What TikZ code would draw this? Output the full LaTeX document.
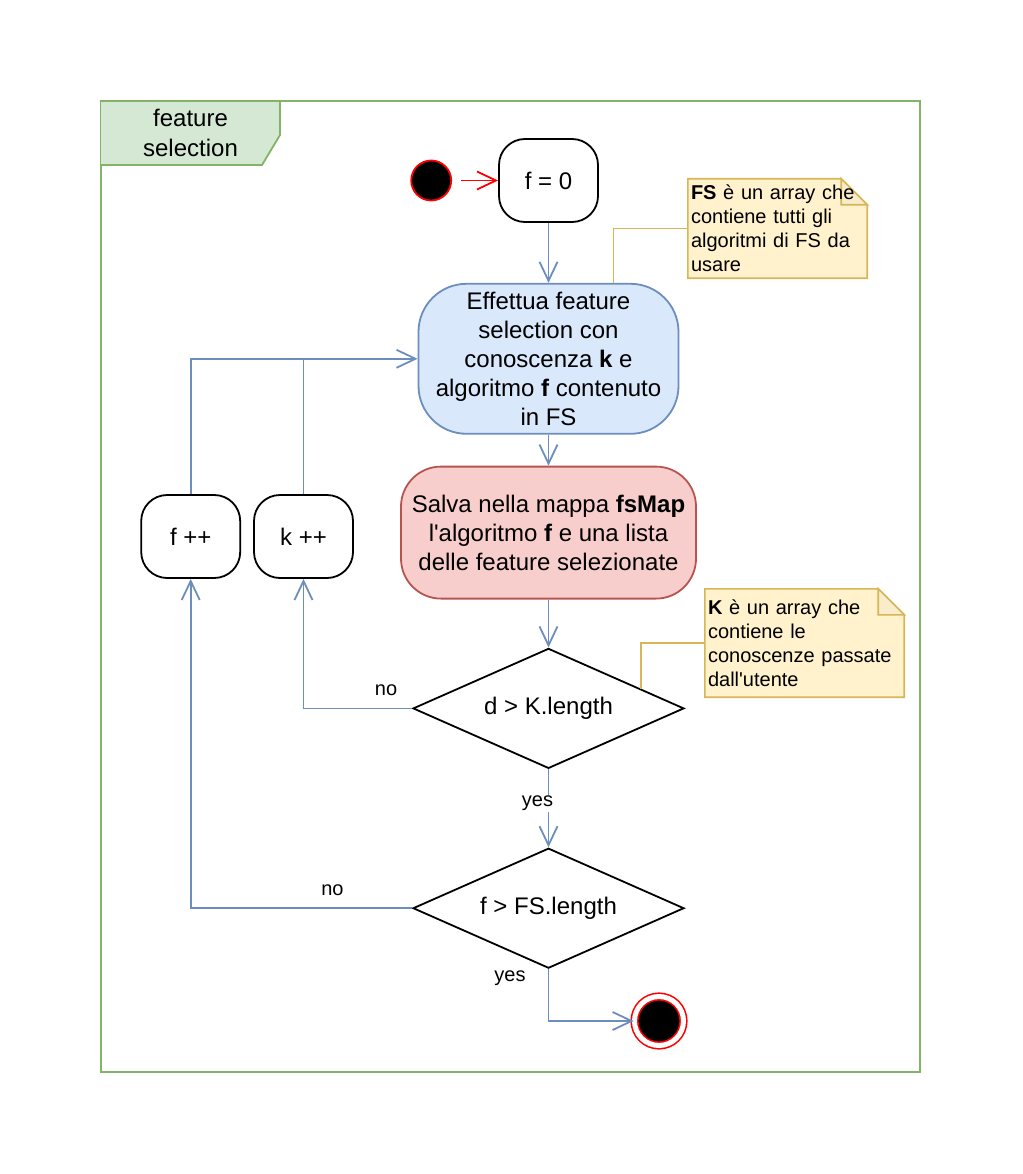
\documentclass[tikz,border=0pt]{standalone}
\usepackage{fontspec}
\newfontfamily\drawfont{Liberation Sans}
\usepackage{tikz}
\usetikzlibrary{shapes.geometric, arrows.meta, positioning, calc, backgrounds}

\definecolor{laneFill}{HTML}{D5E8D4}
\definecolor{laneDraw}{HTML}{82B366}
\definecolor{fsFill}{HTML}{DAE8FC}
\definecolor{fsDraw}{HTML}{6C8EBF}
\definecolor{saveFill}{HTML}{F8CECC}
\definecolor{saveDraw}{HTML}{B85450}
\definecolor{noteFill}{HTML}{FFF2CC}
\definecolor{noteDraw}{HTML}{D6B656}

\begin{document}
\begin{tikzpicture}[
    x=1pt, y=-1pt,
    every node/.style={font=\drawfont\fontsize{24}{29}\selectfont},
    box/.style={rectangle, rounded corners=26pt, draw=black, line width=1.8pt, minimum width=99pt, minimum height=83pt, align=center},
    action/.style={rectangle, line width=1.8pt, align=center, inner sep=2pt},
    decision/.style={diamond, aspect=2.26, draw=black, line width=1.8pt, minimum width=271pt, minimum height=120pt, inner sep=0pt},
    notetext/.style={font=\drawfont\fontsize{20}{24}\selectfont, align=left, inner sep=3pt},
    notebox/.style={fill=noteFill, draw=noteDraw, line width=1.6pt},
    link/.style={draw=noteDraw, line width=1.6pt},
    arrow/.style={-{Straight Barb[length=19pt, width=18pt]}, fsDraw, line width=1.8pt},
    lbl/.style={font=\drawfont\fontsize{20}{24}\selectfont, text=black, fill=white, inner sep=1pt}
]
\useasboundingbox (0,0) rectangle (1022,1174);

% lane title
\node[align=center, font=\drawfont\fontsize{24}{30}\selectfont] (tab) at (190.5,133) {feature\\selection};

% main column
\node[box] (init) at (548.5,180.5) {f = 0};
\node[circle, fill=black, draw=red, line width=1.8pt, minimum size=40pt, left=46pt of init] (start) {};
\node[action, fill=fsFill, draw=fsDraw, rounded corners=48pt, minimum width=260pt, minimum height=150pt, below=60pt of init] (fsel) {Effettua feature\\selection con\\conoscenza \textbf{k} e\\algoritmo \textbf{f} contenuto\\in FS};
\node[action, fill=saveFill, draw=saveDraw, rounded corners=40pt, minimum width=295pt, minimum height=132pt, below=31pt of fsel] (save) {Salva nella mappa \textbf{fsMap}\\l'algoritmo \textbf{f} e una lista\\delle feature selezionate};
\node[decision, below=48pt of save] (chkk) {d > K.length};
\node[decision, below=78pt of chkk] (chkf) {f > FS.length};
\node[circle, draw=red, fill=black, double=white, double distance=5pt, line width=1.6pt, minimum size=49pt] (stop) at (659,1021) {};

% counters
\node[box] (kinc) at (303.5,536.5) {k ++};
\node[box, left=12pt of kinc] (finc) {f ++};

% notes
\node[notetext, minimum width=179pt, minimum height=99pt, text width=173pt] (fsnote) at (777.5,228.5) {\textbf{FS} è un array che\\contiene tutti gli\\algoritmi di FS da\\usare};
\node[notetext, minimum width=199pt, minimum height=108pt, text width=193pt] (knote) at (804.5,643) {\textbf{K} è un array che\\contiene le\\conoscenze passate\\dall'utente};

\begin{scope}[on background layer]
  \draw[draw=laneDraw, line width=1.8pt] (101,101) rectangle (920,1072);
  \draw[fill=laneFill, draw=laneDraw, line width=1.8pt] (101,101) -- (280,101) -- (280,135) -- (262,165) -- (101,165);
  \draw[notebox] (fsnote.south west) -- (fsnote.north west) -- ([xshift=-26pt]fsnote.north east) -- ([yshift=-26pt]fsnote.north east) -- (fsnote.south east) -- cycle;
  \draw[notebox, fill=noteFill!70!noteDraw!60!white] ([xshift=-26pt]fsnote.north east) -- ([xshift=-26pt, yshift=-26pt]fsnote.north east) -- ([yshift=-26pt]fsnote.north east) -- cycle;
  \draw[notebox] (knote.south west) -- (knote.north west) -- ([xshift=-26pt]knote.north east) -- ([yshift=-26pt]knote.north east) -- (knote.south east) -- cycle;
  \draw[notebox, fill=noteFill!70!noteDraw!60!white] ([xshift=-26pt]knote.north east) -- ([xshift=-26pt, yshift=-26pt]knote.north east) -- ([yshift=-26pt]knote.north east) -- cycle;
\end{scope}

% connectors
\draw[arrow, red, shorten <=9pt] (start) -- (init);
\draw[arrow] (init) -- (fsel);
\draw[arrow] (fsel) -- (save);
\draw[arrow] (save) -- (chkk);
\draw[arrow] (chkk) -- node[lbl, xshift=-11pt, yshift=5pt] {yes} (chkf);
\draw[arrow] (chkk) -| node[lbl, pos=0.12, above=11pt] {no} (kinc);
\draw[arrow] (chkf) -| node[lbl, pos=0.18, above=11pt] {no} (finc);
\draw[arrow] (chkf) |- node[lbl, pos=0.09, left=21pt] {yes} (stop);
\draw[arrow] (finc) |- (fsel);
\draw[fsDraw, line width=1.8pt] (kinc) -- (kinc |- fsel);
\draw[link] (fsnote) -| ([xshift=65pt]fsel.north);
\draw[link] (knote) -| ($(chkk.north)!0.68!(chkk.east)$);

\end{tikzpicture}
\end{document}
